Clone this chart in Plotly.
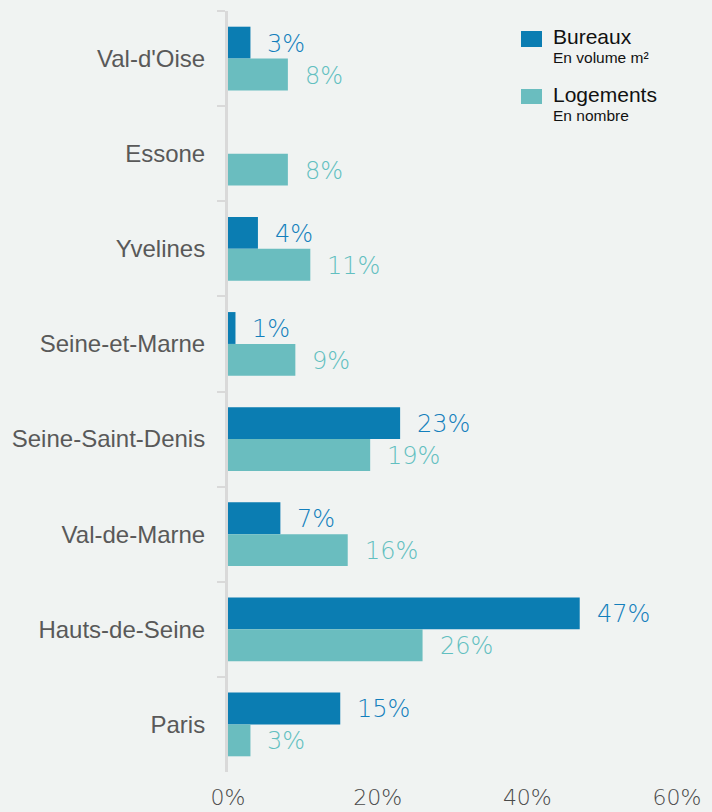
import plotly.graph_objects as go

categories = ["Val-d'Oise", "Essone", "Yvelines", "Seine-et-Marne",
              "Seine-Saint-Denis", "Val-de-Marne", "Hauts-de-Seine", "Paris"]
bureaux = [3, 0, 4, 1, 23, 7, 47, 15]
logements = [8, 8, 11, 9, 19, 16, 26, 3]
x_ticks = [0, 20, 40, 60]
x_tick_labels = ["0%", "20%", "40%", "60%"]

BG = "#f0f3f2"
C_BUR = "#0b7db2"
C_LOG = "#6abdbf"
T_BUR = "#137fbc"
T_LOG = "#62bfc0"
LABEL_FONT = "DejaVu Sans"

fig = go.Figure()
fig.add_trace(go.Bar(y=categories, x=bureaux, orientation="h", name="Bureaux",
                     marker=dict(color=C_BUR, line=dict(width=0)), hoverinfo="x+y"))
fig.add_trace(go.Bar(y=categories, x=logements, orientation="h", name="Logements",
                     marker=dict(color=C_LOG, line=dict(width=0)), hoverinfo="x+y"))

annotations = []
for cat, v in zip(categories, bureaux):
    if v:
        annotations.append(dict(x=v, y=cat, xref="x", yref="y", text=f"{v}%",
                                showarrow=False, xanchor="left", yanchor="middle",
                                xshift=15, yshift=15,
                                font=dict(family=LABEL_FONT, size=24, color=T_BUR, weight=300)))
for cat, v in zip(categories, logements):
    if v:
        annotations.append(dict(x=v, y=cat, xref="x", yref="y", text=f"{v}%",
                                showarrow=False, xanchor="left", yanchor="middle",
                                xshift=15, yshift=-17,
                                font=dict(family=LABEL_FONT, size=24, color=T_LOG, weight=300)))

# legend (custom, top right)
legend_items = [("Bureaux", "En volume m²", C_BUR, 0.9737, 0.9527),
                ("Logements", "En nombre", C_LOG, 0.8975, 0.8778)]
shapes = []
for title, sub, col, y1, y0 in legend_items:
    shapes.append(dict(type="rect", xref="paper", yref="paper",
                       x0=0.6526, x1=0.6993, y0=y0, y1=y1,
                       fillcolor=col, line=dict(width=0)))
    annotations.append(dict(x=0.7194, y=y1 + 0.0108, xref="paper", yref="paper",
                            text=title, showarrow=False, xanchor="left", yanchor="top",
                            font=dict(family="Liberation Sans", size=21, color="#111111")))
    annotations.append(dict(x=0.7194, y=y1 - 0.0212, xref="paper", yref="paper",
                            text=sub, showarrow=False, xanchor="left", yanchor="top",
                            font=dict(family="Liberation Sans", size=15.5, color="#111111")))

fig.update_layout(
    width=712, height=812,
    paper_bgcolor=BG, plot_bgcolor=BG,
    margin=dict(l=228, r=35, t=11, b=40),
    barmode="group", bargap=0.33, bargroupgap=0,
    showlegend=False,
    annotations=annotations, shapes=shapes,
    xaxis=dict(range=[0, 60], tickvals=x_ticks, ticktext=x_tick_labels,
               showgrid=False, zeroline=False, showline=False, ticks="",
               ticklabelstandoff=10, automargin=False,
               tickfont=dict(family=LABEL_FONT, size=22, color="#4a4a4a", weight=300),
               fixedrange=True),
    yaxis=dict(categoryorder="array", categoryarray=categories, autorange="reversed",
               showgrid=False, zeroline=False, automargin=False,
               showline=True, linecolor="#d9d9d9", linewidth=3,
               ticks="outside", tickson="boundaries", ticklen=8, tickwidth=2,
               tickcolor="#d9d9d9", ticklabelstandoff=15,
               tickfont=dict(family="Liberation Sans", size=24, color="#595959"),
               fixedrange=True),
)

fig.write_html("out.html", config={"displayModeBar": False},
               post_script="document.body.style.margin='0';document.body.style.overflow='hidden';")
